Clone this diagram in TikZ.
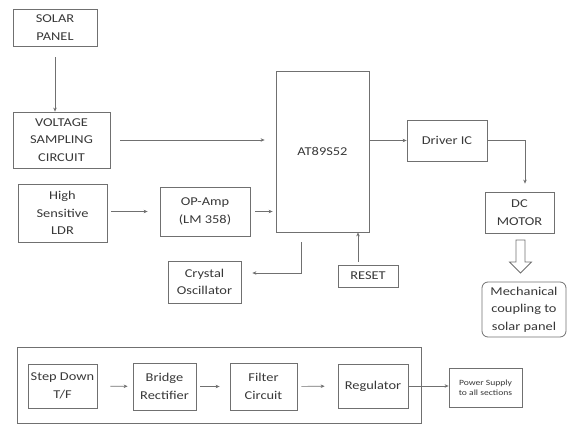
\documentclass[tikz,border=0pt]{standalone}
\usepackage{fontspec}
\setmainfont{Carlito}[FakeStretch=1.2]
\usetikzlibrary{arrows.meta}
\definecolor{blkline}{HTML}{707070}
\definecolor{blktext}{HTML}{383838}

\begin{document}
\begin{tikzpicture}[x=1pt,y=-1pt, every node/.style={font=\fontsize{12}{17.5}\selectfont,text=blktext},
 box/.style={draw=blkline,line width=0.8pt,align=center,inner sep=0pt},
 arr/.style={-{Stealth[length=4pt,width=3.5pt]},line width=0.6pt,draw=blkline}]
\useasboundingbox (0,0) rectangle (568,425);
\node[box,minimum width=84pt,minimum height=37pt] (solar) at (55,27.5) {SOLAR\\PANEL};
\node[box,minimum width=97pt,minimum height=56pt] (volt) at (61.5,140) {VOLTAGE\\SAMPLING\\CIRCUIT};
\node[box,minimum width=89pt,minimum height=58pt] (ldr) at (62.5,213) {High\\Sensitive\\LDR};
\node[box,minimum width=90pt,minimum height=49pt] (opamp) at (205,211.5) {OP-Amp\\(LM 358)};
\node[box,minimum width=93pt,minimum height=161pt] (mcu) at (322.5,151.5) {AT89S52};
\node[box,minimum width=80pt,minimum height=41pt] (driver) at (447,140.5) {Driver IC};
\node[box,minimum width=69pt,minimum height=41pt] (motor) at (519.5,212.5) {DC\\MOTOR};
\node[box,rounded corners=6pt,minimum width=84pt,minimum height=55pt] (mech) at (524,309.5) {Mechanical\\coupling to\\solar panel};
\node[box,minimum width=60pt,minimum height=22pt] (reset) at (368,276) {RESET};
\node[box,minimum width=73pt,minimum height=42pt] (crystal) at (204.5,282) {Crystal\\Oscillator};
% hollow arrow down to the coupling
\coordinate (hollow) at (520.5,240);
\draw[draw=blkline,line width=0.8pt] (hollow) ++(-4.5,0) -- ++(9,0) -- ++(0,22) -- ++(6.5,0)
 -- ++(-11,11) -- ++(-11,-11) -- ++(6.5,0) -- cycle;
% power supply section
\node[box,minimum width=404pt,minimum height=76pt] (psu) at (219,385) {};
\node[box,minimum width=69pt,minimum height=44pt] (stepdown) at (62.5,386) {Step Down\\T/F};
\node[box,minimum width=63pt,minimum height=47pt] (bridge) at (164.5,386.5) {Bridge\\Rectifier};
\node[box,minimum width=67pt,minimum height=47pt] (filter) at (263.5,386.5) {Filter\\Circuit};
\node[box,minimum width=70pt,minimum height=44pt] (regulator) at (373,386) {Regulator};
\node[box,minimum width=73pt,minimum height=39pt,font=\fontsize{8}{10}\selectfont] (supply) at (485.5,387.5) {Power Supply\\to all sections};
\draw[arr,shorten <=11pt] (solar.south) -- (solar.south |- volt.north);
\draw[arr,shorten <=10pt,shorten >=11pt] (volt.east) -- (volt.east -| mcu.west);
\draw[arr,shorten <=4pt,shorten >=12pt] (opamp.west -| ldr.east) -- (opamp.west);
\draw[arr,shorten <=5pt,shorten >=3pt] (opamp.east) -- (opamp.east -| mcu.west);
\draw[arr] (driver.west -| mcu.east) -- (driver.west);
\draw[arr,shorten >=8pt] (driver.east) -| ([xshift=5.5pt]motor.north);
\draw[arr,shorten <=10pt,shorten >=11pt] ([xshift=-21.5pt]mcu.south) |- ([yshift=9pt]crystal.east);
\draw[arr,shorten <=3pt] ([xshift=-10pt]reset.north) -- ([xshift=-10pt]reset.north |- mcu.south);
\draw[arr,shorten <=13pt,shorten >=5pt] (stepdown) -- (bridge);
\draw[arr,shorten <=4pt,shorten >=10pt] (bridge) -- (filter);
\draw[arr,shorten <=4pt,shorten >=13pt] (filter) -- (regulator);
\draw[arr] (regulator.east) -- (regulator.east -| supply.west);
\end{tikzpicture}
\end{document}
